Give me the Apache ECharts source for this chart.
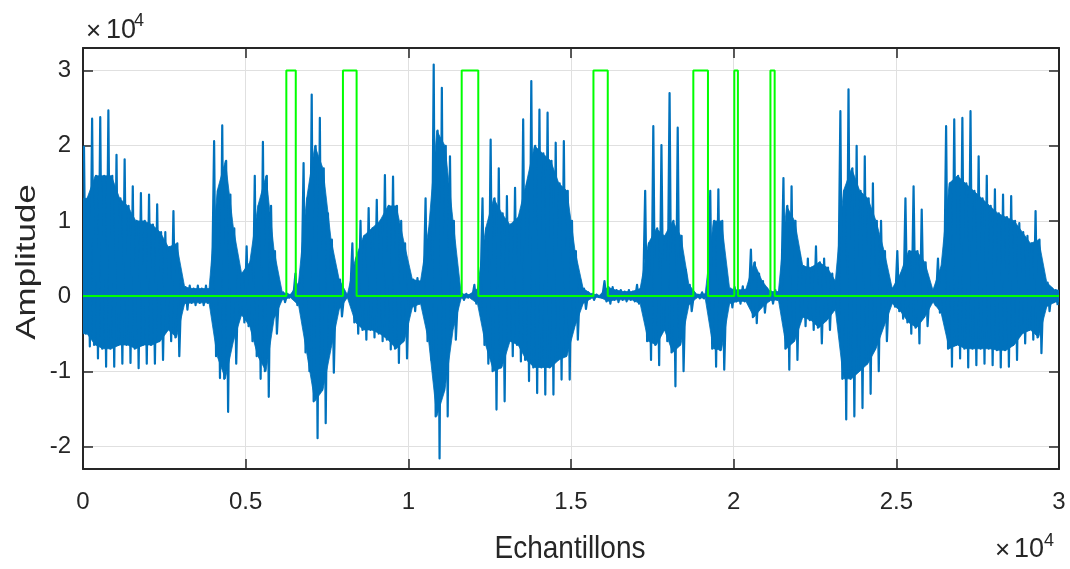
<!DOCTYPE html>
<html>
<head>
<meta charset="utf-8">
<script src="https://cdn.jsdelivr.net/npm/echarts@6/dist/echarts.min.js"></script>
<style>
html,body{margin:0;padding:0;background:#ffffff;}
#chart{width:1070px;height:569px;}
</style>
</head>
<body>
<div id="chart"></div>
<script>
// ---------------- data (amplitudes in units of 1e4) ----------------
const BIN = 250;            // samples per envelope bin
const UNIT = 10000;         // amplitude unit (x10^4)
const N_SAMPLES = 30000;

// spike maxima per 250-sample bin
const peakPos = [
  2.00, 2.36, 2.38, 2.47, 1.88, 1.82, 1.46, 1.37, 1.35, 1.22,
  0.85, 1.13, 0.22, 0.14, 0.14, 0.14, 2.06, 2.27, 1.35, 0.40,
  0.66, 1.60, 2.05, 1.20, 0.08, 0.03, 0.30, 1.77, 2.68, 2.37,
  1.10, 0.35, 0.03, 0.70, 1.00, 1.17, 1.28, 1.61, 1.59, 1.00,
  0.30, 0.24, 1.30, 3.08, 2.77, 1.86, 0.05, 0.03, 0.15, 1.30,
  2.08, 1.70, 1.33, 1.44, 2.35, 2.86, 2.48, 2.44, 2.04, 2.06,
  1.00, 0.22, 0.05, 0.02, 0.20, 0.12, 0.08, 0.08, 0.15, 1.40,
  2.26, 2.01, 2.70, 2.24, 0.35, 0.03, 0.05, 1.40, 1.42, 0.20,
  0.12, 0.13, 0.62, 0.30, 0.10, 0.08, 1.57, 1.46, 0.55, 0.50,
  0.66, 0.50, 0.30, 2.46, 2.75, 2.00, 1.86, 1.50, 1.00, 0.15,
  0.60, 1.30, 1.46, 1.15, 0.12, 0.50, 2.26, 2.35, 2.37, 2.46,
  1.86, 1.60, 1.42, 1.35, 1.33, 0.97, 0.80, 1.13, 0.26, 0.10
];
// spike minima per bin
const peakNeg = [
  -0.67, -0.83, -0.94, -0.94, -0.90, -0.89, -0.96, -0.90, -0.90, -0.85,
  -0.60, -0.80, -0.18, -0.12, -0.12, -0.12, -1.09, -1.54, -0.90, -0.35,
  -0.60, -1.10, -1.34, -0.50, -0.08, -0.03, -0.18, -1.00, -1.89, -1.69,
  -1.02, -0.27, -0.03, -0.50, -0.58, -0.55, -0.60, -0.71, -0.89, -0.83,
  -0.20, -0.14, -0.85, -2.16, -1.60, -0.58, -0.05, -0.03, -0.14, -0.90,
  -1.51, -1.40, -0.80, -0.87, -1.13, -1.29, -1.31, -1.31, -1.11, -1.11,
  -0.58, -0.17, -0.05, -0.02, -0.10, -0.08, -0.07, -0.07, -0.14, -0.85,
  -0.92, -0.60, -1.20, -1.00, -0.20, -0.03, -0.05, -0.94, -0.98, -0.15,
  -0.10, -0.10, -0.36, -0.22, -0.10, -0.08, -0.98, -0.85, -0.40, -0.45,
  -0.63, -0.45, -0.30, -1.64, -1.60, -1.49, -1.30, -1.00, -0.60, -0.14,
  -0.30, -0.50, -0.63, -0.40, -0.12, -0.30, -0.94, -0.83, -0.95, -0.92,
  -0.90, -0.92, -0.95, -0.94, -0.85, -0.63, -0.58, -0.76, -0.20, -0.12
];
// dense (mostly solid) part of the signal per bin
const coreTop = [
  1.30, 1.60, 1.60, 1.60, 1.30, 1.20, 1.00, 1.00, 0.95, 0.85,
  0.65, 0.70, 0.12, 0.10, 0.10, 0.10, 1.40, 1.80, 0.90, 0.30,
  0.45, 1.20, 1.60, 0.60, 0.05, 0.02, 0.18, 1.30, 2.00, 1.70,
  0.75, 0.22, 0.02, 0.50, 0.80, 0.90, 1.00, 1.20, 1.20, 0.70,
  0.22, 0.20, 0.90, 2.20, 2.00, 1.00, 0.03, 0.02, 0.10, 0.90,
  1.30, 1.10, 0.95, 1.05, 1.50, 2.00, 1.90, 1.80, 1.50, 1.40,
  0.60, 0.10, 0.03, 0.01, 0.12, 0.08, 0.06, 0.06, 0.10, 0.70,
  0.90, 0.80, 1.00, 0.80, 0.15, 0.02, 0.03, 1.00, 1.00, 0.10,
  0.08, 0.09, 0.45, 0.20, 0.06, 0.06, 1.20, 1.00, 0.40, 0.38,
  0.45, 0.38, 0.20, 1.40, 1.70, 1.40, 1.30, 1.00, 0.60, 0.10,
  0.30, 0.60, 0.60, 0.45, 0.08, 0.40, 1.50, 1.60, 1.50, 1.40,
  1.30, 1.20, 1.10, 1.05, 1.00, 0.85, 0.70, 0.75, 0.18, 0.08
];
const coreBot = [
  -0.50, -0.65, -0.70, -0.70, -0.65, -0.65, -0.70, -0.65, -0.65, -0.60,
  -0.45, -0.55, -0.10, -0.09, -0.09, -0.09, -0.80, -1.10, -0.60, -0.25,
  -0.40, -0.80, -1.00, -0.30, -0.05, -0.02, -0.12, -0.75, -1.40, -1.25,
  -0.70, -0.18, -0.02, -0.35, -0.45, -0.45, -0.50, -0.58, -0.70, -0.60,
  -0.15, -0.10, -0.60, -1.60, -1.25, -0.45, -0.03, -0.02, -0.10, -0.65,
  -1.00, -0.95, -0.60, -0.65, -0.85, -0.95, -0.95, -0.95, -0.85, -0.80,
  -0.40, -0.10, -0.03, -0.01, -0.07, -0.05, -0.05, -0.05, -0.10, -0.60,
  -0.65, -0.45, -0.75, -0.65, -0.12, -0.02, -0.03, -0.70, -0.72, -0.10,
  -0.07, -0.07, -0.28, -0.15, -0.06, -0.05, -0.70, -0.60, -0.28, -0.32,
  -0.42, -0.32, -0.18, -1.10, -1.10, -1.00, -0.90, -0.70, -0.40, -0.10,
  -0.20, -0.35, -0.42, -0.28, -0.08, -0.22, -0.70, -0.65, -0.70, -0.70,
  -0.70, -0.70, -0.72, -0.72, -0.65, -0.50, -0.45, -0.55, -0.14, -0.08
];

// green detection pulses (sample indices) and their level
const pulseStart = [6250, 7990, 11640, 15690, 18760, 20020, 21130];
const pulseEnd   = [6540, 8410, 12150, 16130, 19210, 20130, 21260];
const pulseLevel = 30000;

// axes
const xMin = 0, xMax = 30000, xStep = 5000;
const yMin = -23000, yMax = 33000;

// ---------------- build series data ----------------
// each bin: spike up to its maximum, back through the dense part, spike down to its minimum
const zig = [];
for (let i = 0; i < peakPos.length; i++) {
  const x0 = i * BIN;
  zig.push([x0 + 30, peakPos[i] * UNIT]);
  zig.push([x0 + 90, coreBot[i] * UNIT]);
  zig.push([x0 + 150, coreTop[i] * UNIT]);
  zig.push([x0 + 210, peakNeg[i] * UNIT]);
}
function coreLine(arr) {
  const d = [[0, arr[0] * UNIT]];
  arr.forEach((v, i) => d.push([i * BIN + BIN / 2, v * UNIT]));
  d.push([N_SAMPLES, arr[arr.length - 1] * UNIT]);
  return d;
}
const vad = [[0, 0]];
for (let k = 0; k < pulseStart.length; k++) {
  vad.push([pulseStart[k], 0], [pulseStart[k], pulseLevel], [pulseEnd[k], pulseLevel], [pulseEnd[k], 0]);
}
vad.push([N_SAMPLES, 0]);

// ---------------- chart ----------------
const BLUE = '#0072BD';
const GREEN = '#00FF00';
const DARK = '#262626';
const FONT = '"Liberation Sans", Arial, Helvetica, sans-serif';

const chart = echarts.init(document.getElementById('chart'), null, {renderer: 'canvas'});

const frameLine = {show: true, onZero: false, lineStyle: {color: DARK, width: 2}};
const tick = {show: true, inside: true, length: 10, lineStyle: {color: DARK, width: 1.5}};

chart.setOption({
  animation: false,
  backgroundColor: '#ffffff',
  grid: {left: 83, right: 11, top: 48, bottom: 100, containLabel: false},
  xAxis: [
    {
      type: 'value', min: xMin, max: xMax, interval: xStep, position: 'bottom',
      axisLine: frameLine, axisTick: tick,
      axisLabel: {color: DARK, fontSize: 24, fontFamily: FONT, margin: 21,
        formatter: v => String(v / UNIT)},
      splitLine: {show: true, lineStyle: {color: '#e0e0e0', width: 1}}
    },
    {
      type: 'value', min: xMin, max: xMax, interval: xStep, position: 'top',
      axisLine: frameLine, axisTick: tick, axisLabel: {show: false}, splitLine: {show: false}
    }
  ],
  yAxis: [
    {
      type: 'value', min: yMin, max: yMax, splitNumber: 5, position: 'left',
      axisLine: frameLine, axisTick: tick,
      axisLabel: {color: DARK, fontSize: 24, fontFamily: FONT, margin: 12,
        showMinLabel: false, showMaxLabel: false,
        formatter: v => String(v / UNIT)},
      splitLine: {show: true, lineStyle: {color: '#e0e0e0', width: 1}}
    },
    {
      type: 'value', min: yMin, max: yMax, splitNumber: 5, position: 'right',
      axisLine: frameLine, axisTick: tick, axisLabel: {show: false}, splitLine: {show: false}
    }
  ],
  series: [
    {
      name: 'coreTop', type: 'line', data: coreLine(coreTop), showSymbol: false, symbol: 'none',
      lineStyle: {width: 0.8, color: BLUE}, areaStyle: {color: BLUE, opacity: 1}, z: 2, silent: true
    },
    {
      name: 'coreBot', type: 'line', data: coreLine(coreBot), showSymbol: false, symbol: 'none',
      lineStyle: {width: 0.8, color: BLUE}, areaStyle: {color: BLUE, opacity: 1}, z: 2, silent: true
    },
    {
      name: 'signal', type: 'line', data: zig, showSymbol: false, symbol: 'none',
      lineStyle: {width: 2.2, color: BLUE, join: 'round'}, z: 3, silent: true
    },
    {
      name: 'detection', type: 'line', data: vad, showSymbol: false, symbol: 'none',
      lineStyle: {width: 2, color: GREEN}, z: 5, silent: true
    }
  ],
  graphic: [
    {type: 'text', x: 27, y: 262, rotation: Math.PI / 2, scaleX: 1.25, z: 10,
      style: {text: 'Amplitude', font: '28px ' + FONT, fill: DARK, align: 'center', verticalAlign: 'middle'}},
    {type: 'text', x: 570, y: 549, scaleY: 1.12, z: 10,
      style: {text: 'Echantillons', font: '28px ' + FONT, fill: DARK, align: 'center', verticalAlign: 'middle'}},
    {type: 'text', x: 86, y: 32, z: 10,
      style: {text: '×', font: '26px ' + FONT, fill: DARK, align: 'left', verticalAlign: 'middle'}},
    {type: 'text', x: 106, y: 31, z: 10,
      style: {text: '10', font: '27px ' + FONT, fill: DARK, align: 'left', verticalAlign: 'middle'}},
    {type: 'text', x: 134, y: 21, z: 10,
      style: {text: '4', font: '18px ' + FONT, fill: DARK, align: 'left', verticalAlign: 'middle'}},
    {type: 'text', x: 995, y: 551, z: 10,
      style: {text: '×', font: '26px ' + FONT, fill: DARK, align: 'left', verticalAlign: 'middle'}},
    {type: 'text', x: 1014, y: 550, z: 10,
      style: {text: '10', font: '27px ' + FONT, fill: DARK, align: 'left', verticalAlign: 'middle'}},
    {type: 'text', x: 1044, y: 541, z: 10,
      style: {text: '4', font: '18px ' + FONT, fill: DARK, align: 'left', verticalAlign: 'middle'}}
  ]
});
</script>
</body>
</html>
